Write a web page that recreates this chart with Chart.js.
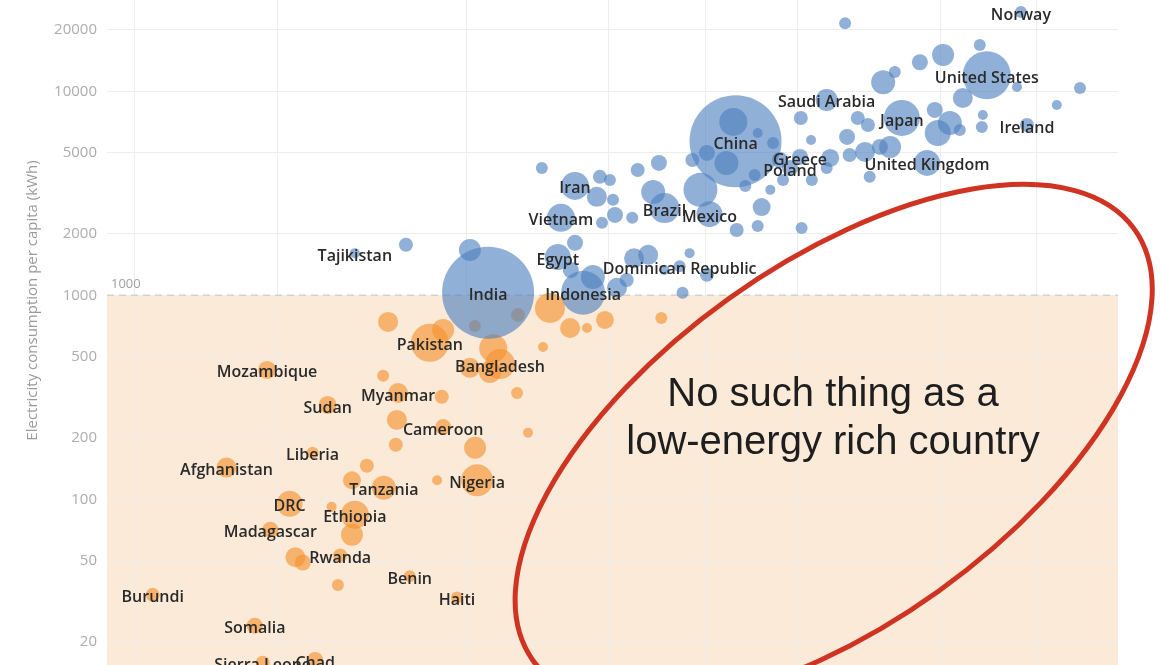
<!DOCTYPE html>
<html><head><meta charset="utf-8">
<script src="https://cdn.jsdelivr.net/npm/chart.js@4.4.0/dist/chart.umd.min.js"></script>
<style>html,body{margin:0;padding:0;background:#fff;overflow:hidden}#wrap{width:1160px;height:665px;position:relative}</style>
</head><body><div id="wrap"><canvas id="c" width="1160" height="665"></canvas></div>
<script>
// ---- axis ticks ----
const yTicks = [20, 50, 100, 200, 500, 1000, 2000, 5000, 10000, 20000];
const xGridTicks = [1000, 2000, 5000, 10000, 16000, 25000, 50000, 80000];
const threshold = 1000;

// ---- countries using >= 1000 kWh per capita (blue) ----
const highNames = ['Norway','United States','','','','','','Ireland','Saudi Arabia','','','','','','','','','Japan','','','','','','','','','United Kingdom','','','','','','Greece','Poland','','','','China','','','','','','','Mexico','','','','','','','','Brazil','','','','Iran','','','','','','Vietnam','','','Egypt','','Indonesia','','','','','','Dominican Republic','','','','','','Tajikistan','','','India','','','',''];
const highGdp = [74000,62700,60600,55800,72600,88100,98600,76200,28800,25400,31500,26700,33500,31800,35200,37900,40100,41500,45300,50700,48700,52400,49400,55000,61200,61500,46900,34700,39200,37300,32200,35500,25300,24100,29300,28800,26800,18500,18300,17700,16100,15000,22200,15600,16300,18600,20600,21000,25500,21900,20300,12400,13100,12750,11500,11200,8480,7220,9570,10050,9430,10200,7920,10300,9670,7800,8480,8820,9250,10400,8310,11300,12100,14100,10900,14300,14800,16100,13100,2910,3730,5090,5560,22950,19400,23300,20600];
const highKwh = [24500,12000,16900,9280,10500,8580,10400,6840,9080,7410,21600,5780,7410,5980,6840,11100,12450,7410,13900,15100,8110,7000,6250,6470,6690,7660,4460,5050,5340,5340,4880,3810,4770,4210,4720,4210,3680,5700,7080,4460,4990,4610,5580,3290,2500,2090,2190,2710,2140,3290,3890,3210,2680,4460,4120,2400,3440,4210,3810,3680,3040,2940,2400,2480,2270,1540,1810,1030,1230,1090,1330,1520,1580,1390,1190,1030,1610,1260,1330,1610,1770,1670,1030,4610,3440,3680,6250];
const highSize = [6,24,6,10,5,5,6,7,11,7,6,5,7,8,7,12,6,18,8,11,8,12,13,6,6,5,13,10,11,8,7,6,8,8,9,6,6,46,14,12,8,7,6,17,13,7,6,9,6,5,6,12,15,8,7,6,14,6,7,6,10,6,14,8,6,13,8,22,12,10,8,10,10,6,7,6,5,7,5,5,7,11,46,8,6,6,5];

// ---- countries using < 1000 kWh per capita (orange) ----
const lowNames = ['','Pakistan','','Bangladesh','','','','','','','','','','','Myanmar','','','','Cameroon','','','Nigeria','','Mozambique','Sudan','Liberia','Afghanistan','','','Tanzania','DRC','','Ethiopia','','Madagascar','','','Rwanda','','Benin','Haiti','Burundi','Somalia','Sierra Leone','Chad','','',''];
const lowGdp = [3420,4190,4470,5890,5610,5090,7260,7510,8280,8990,9810,12900,6400,6750,3590,3340,4440,3570,4470,3550,5220,5270,4340,1900,2550,2370,1560,3085,2870,3350,2120,2600,2910,2870,1930,2180,2260,2710,2680,3800,4780,1090,1790,1860,2400,5215,6430,5700];
const lowKwh = [741,585,677,460,421,441,558,867,692,692,758,775,332,212,332,403,318,245,226,185,179,124,124,431,290,169,143,146,124,114,95,92,84,67,71,52,49,53,38,42,33,34,24,15.8,16.3,708,802,550];
const lowSize = [10,19,11,15,11,10,5,15,10,5,9,6,6,5,10,6,7,10,8,7,11,16,5,9,9,6,10,7,9,12,13,5,14,11,8,10,8,7,6,6,6,7,8,7,8,6,7,14];

const yTitle = 'Electricity consumption per capita (kWh)';
const noteLines = ['No such thing as a', 'low-energy rich country'];
const noteAnchor = {x: 29700, y: 287};      // data coords of first text baseline centre
const ellipseAnchor = {x: 29800, y: 185};   // data coords of ellipse centre

function pts(g, k, s) { return g.map((v, i) => ({x: v, y: k[i], r: s[i]})); }

// keep the plot area edge-to-edge like the cropped original
Chart.BubbleController.prototype.getMaxOverflow = function () { return false; };

const shadePlugin = {
  id: 'shade',
  beforeDraw(chart) {
    const {ctx, chartArea: a, scales: {y}} = chart;
    const yp = y.getPixelForValue(threshold);
    ctx.save();
    ctx.fillStyle = '#FBEAD8';
    ctx.fillRect(a.left, yp, a.right - a.left, a.bottom - yp);
    ctx.restore();
  },
  beforeDatasetsDraw(chart) {
    const {ctx, chartArea: a, scales: {y}} = chart;
    const yp = y.getPixelForValue(threshold);
    ctx.save();
    ctx.strokeStyle = '#d6d2cc';
    ctx.lineWidth = 1.5;
    ctx.setLineDash([7, 5]);
    ctx.beginPath(); ctx.moveTo(a.left, yp); ctx.lineTo(a.right, yp); ctx.stroke();
    ctx.setLineDash([]);
    ctx.fillStyle = '#a0a0a0';
    ctx.font = '13px "Open Sans"';
    ctx.textBaseline = 'alphabetic';
    ctx.textAlign = 'left';
    ctx.fillText(String(threshold), a.left + 4, yp - 7);
    // y-axis title
    ctx.translate(33, (a.top + a.bottom) / 2 - 32);
    ctx.rotate(-Math.PI / 2);
    ctx.textAlign = 'center';
    ctx.textBaseline = 'middle';
    ctx.fillStyle = '#9a9a9a';
    ctx.font = '15px "Open Sans"';
    ctx.fillText(yTitle, 0, 0);
    ctx.restore();
  }
};

const labelPlugin = {
  id: 'labels',
  afterDatasetsDraw(chart) {
    const {ctx} = chart;
    const names = [highNames, lowNames];
    ctx.save();
    ctx.font = '600 16px "Open Sans"';
    ctx.textAlign = 'center';
    ctx.textBaseline = 'middle';
    ctx.fillStyle = '#2a2a2a';
    chart.data.datasets.forEach((ds, di) => {
      const meta = chart.getDatasetMeta(di);
      meta.data.forEach((el, i) => {
        const n = names[di][i];
        if (n) ctx.fillText(n, el.x, el.y + 3);
      });
    });
    ctx.restore();
  }
};

const notePlugin = {
  id: 'note',
  afterDatasetsDraw(chart) {
    const {ctx, scales: {x, y}} = chart;
    const cx = x.getPixelForValue(ellipseAnchor.x), cy = y.getPixelForValue(ellipseAnchor.y);
    ctx.save();
    ctx.strokeStyle = '#CF3423';
    ctx.lineWidth = 5;
    ctx.beginPath();
    ctx.ellipse(cx, cy, 370, 180, -35.6 * Math.PI / 180, 0, Math.PI * 2);
    ctx.stroke();
    const tx = x.getPixelForValue(noteAnchor.x), ty = y.getPixelForValue(noteAnchor.y);
    ctx.fillStyle = '#1e1e1e';
    ctx.font = '40px "Liberation Sans"';
    ctx.textAlign = 'center';
    ctx.textBaseline = 'alphabetic';
    noteLines.forEach((t, i) => ctx.fillText(t, tx, ty + i * 48));
    ctx.restore();
  }
};

new Chart(document.getElementById('c'), {
  type: 'bubble',
  data: {
    datasets: [
      {label: '≥ 1000 kWh', data: pts(highGdp, highKwh, highSize), backgroundColor: 'rgba(78,128,190,0.62)', borderWidth: 0, hoverBorderWidth: 0, clip: false},
      {label: '< 1000 kWh', data: pts(lowGdp, lowKwh, lowSize), backgroundColor: 'rgba(243,145,45,0.62)', borderWidth: 0, hoverBorderWidth: 0, clip: false}
    ]
  },
  options: {
    responsive: false,
    animation: false,
    devicePixelRatio: 1,
    layout: {padding: {left: 0, right: 42, top: 0, bottom: 0}},
    plugins: {legend: {display: false}, tooltip: {enabled: false}},
    scales: {
      x: {
        type: 'logarithmic', min: 873, max: 118600,
        afterBuildTicks: s => { s.ticks = xGridTicks.map(v => ({value: v})); },
        afterFit: s => { s.height = 0; s.paddingLeft = 0; s.paddingRight = 0; },
        ticks: {display: false},
        grid: {color: '#ededed', drawTicks: false},
        border: {display: false}
      },
      y: {
        type: 'logarithmic', min: 15.4, max: 28060,
        afterBuildTicks: s => { s.ticks = yTicks.map(v => ({value: v})); },
        afterFit: s => { s.width = 107; s.paddingTop = 0; s.paddingBottom = 0; },
        ticks: {color: '#adadad', font: {family: '"Open Sans"', size: 15}, padding: 10, callback: v => String(v)},
        grid: {color: '#ededed', drawTicks: false},
        border: {display: false}
      }
    }
  },
  plugins: [shadePlugin, labelPlugin, notePlugin]
});
</script></body></html>
